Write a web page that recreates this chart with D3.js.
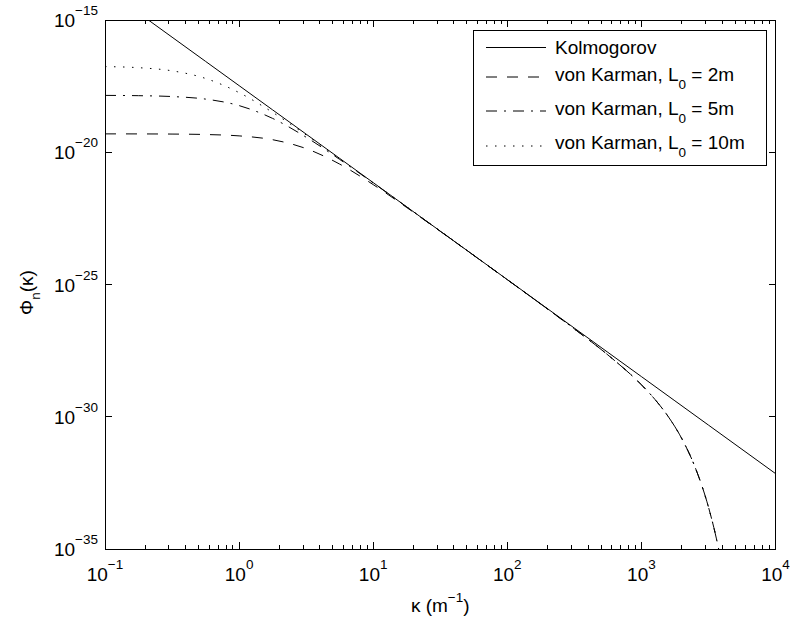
<!DOCTYPE html>
<html>
<head>
<meta charset="utf-8">
<script src="https://cdn.jsdelivr.net/npm/d3@7"></script>
<style>
  html, body { margin: 0; padding: 0; background: #fff; }
  svg { display: block; }
  text { font-family: "Liberation Sans", Arial, Helvetica, sans-serif; fill: #000; }
</style>
</head>
<body>
<div id="chart"></div>
<script>
// ---------------- data ----------------
const kappaKolmogorov = [0.1, 0.1778, 0.3162, 0.5623, 1, 1.778, 3.162, 5.623, 10, 17.78, 31.62, 56.23, 100, 177.8, 316.2, 562.3, 1000, 1778, 3162, 5623, 10000];
const phiKolmogorov = [1.532e-14, 1.856e-15, 2.248e-16, 2.724e-17, 3.3e-18, 3.998e-19, 4.844e-20, 5.868e-21, 7.108e-22, 8.614e-23, 1.0435e-23, 1.264e-24, 1.532e-25, 1.856e-26, 2.248e-27, 2.724e-28, 3.3e-29, 3.998e-30, 4.844e-31, 5.868e-32, 7.108e-33];

const kappaVonKarman = [0.1, 0.1778, 0.3162, 0.5623, 1, 1.778, 3.162, 5.623, 10, 17.78, 31.62, 56.23, 100, 177.8, 316.2, 562.3, 1000, 1259, 1585, 1995, 2512, 3162, 3548, 3981];
const phiVonKarman2m = [4.95e-20, 4.933e-20, 4.871e-20, 4.683e-20, 4.157e-20, 2.981e-20, 1.375e-20, 3.566e-21, 5.98e-22, 8.142e-23, 1.025e-23, 1.257e-24, 1.518e-25, 1.813e-26, 2.093e-27, 2.174e-28, 1.617e-29, 4.58e-30, 1.016e-30, 1.532e-31, 1.251e-32, 3.867e-34, 3.998e-35, 2.562e-36];
const phiVonKarman5m = [1.4115e-18, 1.3768e-18, 1.2757e-18, 1.0219e-18, 5.808e-19, 1.9027e-19, 3.701e-20, 5.366e-21, 6.908e-22, 8.535e-23, 1.0404e-23, 1.2634e-24, 1.5201e-25, 1.814e-26, 2.094e-27, 2.174e-28, 1.617e-29, 4.58e-30, 1.016e-30, 1.532e-31, 1.251e-32, 3.867e-34, 3.998e-35, 2.562e-36];
const phiVonKarman10m = [1.7323e-17, 1.5747e-17, 1.1986e-17, 6.168e-18, 1.7932e-18, 3.2227e-19, 4.5114e-20, 5.736e-21, 7.058e-22, 8.595e-23, 1.0428e-23, 1.264e-24, 1.519e-25, 1.814e-26, 2.094e-27, 2.174e-28, 1.617e-29, 4.58e-30, 1.016e-30, 1.532e-31, 1.251e-32, 3.867e-34, 3.998e-35, 2.562e-36];

const seriesNames = ["Kolmogorov", "von Karman, L", "von Karman, L", "von Karman, L"];
const seriesSubs = ["", "0", "0", "0"];
const seriesRest = ["", " = 2m", " = 5m", " = 10m"];

const xTickValues = [0.1, 1, 10, 100, 1000, 10000];
const xTickExponents = ["\u22121", "0", "1", "2", "3", "4"];
const yTickValues = [1e-35, 1e-30, 1e-25, 1e-20, 1e-15];
const yTickExponents = ["\u221235", "\u221230", "\u221225", "\u221220", "\u221215"];

// ---------------- layout ----------------
const W = 794, H = 619;
const plot = { left: 105, right: 775.5, top: 20, bottom: 549 };
const FS = 19, SUPFS = 13.5;

const svg = d3.select("#chart").append("svg")
  .attr("width", W).attr("height", H)
  .attr("viewBox", `0 0 ${W} ${H}`);

svg.append("rect").attr("width", W).attr("height", H).attr("fill", "#fff");

const x = d3.scaleLog().domain([0.1, 10000]).range([plot.left, plot.right]);
const y = d3.scaleLog().domain([1e-35, 1e-15]).range([plot.bottom, plot.top]);

svg.append("clipPath").attr("id", "clip")
  .append("rect")
  .attr("x", plot.left).attr("y", plot.top)
  .attr("width", plot.right - plot.left).attr("height", plot.bottom - plot.top);

// ---------------- series ----------------
const styles = [
  { dash: null },
  { dash: "11,10" },
  { dash: "11,7,2,7" },
  { dash: "1.5,7.5" }
];

const series = [
  { k: kappaKolmogorov, v: phiKolmogorov },
  { k: kappaVonKarman, v: phiVonKarman2m },
  { k: kappaVonKarman, v: phiVonKarman5m },
  { k: kappaVonKarman, v: phiVonKarman10m }
];

const line = d3.line()
  .x(d => x(d[0]))
  .y(d => y(d[1]))
  .curve(d3.curveMonotoneX);

const gLines = svg.append("g").attr("clip-path", "url(#clip)");
series.forEach((s, i) => {
  const pts = s.k.map((kk, j) => [kk, s.v[j]]);
  gLines.append("path")
    .attr("d", line(pts))
    .attr("fill", "none")
    .attr("stroke", "#000")
    .attr("stroke-width", 1)
    .attr("stroke-dasharray", styles[i].dash);
});

// ---------------- axes (box with inward ticks) ----------------
const gAx = svg.append("g").attr("stroke", "#000").attr("stroke-width", 1).attr("shape-rendering", "crispEdges");
const MAJ = 7, MIN = 4;

const xMinor = x.ticks().filter(t => !xTickValues.some(v => Math.abs(Math.log10(v) - Math.log10(t)) < 1e-6));
xMinor.forEach(t => {
  const px = x(t);
  gAx.append("line").attr("x1", px).attr("x2", px).attr("y1", plot.bottom).attr("y2", plot.bottom - MIN);
  gAx.append("line").attr("x1", px).attr("x2", px).attr("y1", plot.top).attr("y2", plot.top + MIN);
});
xTickValues.forEach(t => {
  const px = x(t);
  gAx.append("line").attr("x1", px).attr("x2", px).attr("y1", plot.bottom).attr("y2", plot.bottom - MAJ);
  gAx.append("line").attr("x1", px).attr("x2", px).attr("y1", plot.top).attr("y2", plot.top + MAJ);
});
yTickValues.forEach(t => {
  const py = y(t);
  gAx.append("line").attr("x1", plot.left).attr("x2", plot.left + MAJ).attr("y1", py).attr("y2", py);
  gAx.append("line").attr("x1", plot.right).attr("x2", plot.right - MAJ).attr("y1", py).attr("y2", py);
});

gAx.append("rect")
  .attr("x", plot.left).attr("y", plot.top)
  .attr("width", plot.right - plot.left).attr("height", plot.bottom - plot.top)
  .attr("fill", "none");

// tick labels
xTickValues.forEach((t, i) => {
  const txt = svg.append("text")
    .attr("x", x(t)).attr("y", plot.bottom + 32)
    .attr("text-anchor", "middle")
    .attr("font-size", FS);
  txt.append("tspan").text("10");
  txt.append("tspan").attr("font-size", SUPFS).attr("dy", -12).text(xTickExponents[i]);
});
yTickValues.forEach((t, i) => {
  const txt = svg.append("text")
    .attr("x", plot.left - 7).attr("y", y(t) + 7)
    .attr("text-anchor", "end")
    .attr("font-size", FS);
  txt.append("tspan").text("10");
  txt.append("tspan").attr("font-size", SUPFS).attr("dy", -12).text(yTickExponents[i]);
});

// axis labels
const xl = svg.append("text")
  .attr("x", (plot.left + plot.right) / 2).attr("y", 612)
  .attr("text-anchor", "middle").attr("font-size", FS);
xl.append("tspan").text("\u03BA (m");
xl.append("tspan").attr("font-size", SUPFS).attr("dy", -10).text("\u22121");
xl.append("tspan").attr("dy", 10).text(")");

const yl = svg.append("text")
  .attr("transform", `translate(33, ${(plot.top + plot.bottom) / 2 + 8}) rotate(-90)`)
  .attr("text-anchor", "middle").attr("font-size", FS);
yl.append("tspan").text("\u03A6");
yl.append("tspan").attr("font-size", SUPFS).attr("dy", 7).text("n");
yl.append("tspan").attr("dy", -7).text("(\u03BA)");

// ---------------- legend ----------------
const leg = { x0: 473, y0: 30, x1: 766, y1: 165 };
svg.append("rect")
  .attr("x", leg.x0).attr("y", leg.y0)
  .attr("width", leg.x1 - leg.x0).attr("height", leg.y1 - leg.y0)
  .attr("fill", "#fff").attr("stroke", "#000").attr("stroke-width", 1)
  .attr("shape-rendering", "crispEdges");

const rowLineY = [47.5, 77, 111, 146];
const rowBaseY = [54, 81, 115, 149];
seriesNames.forEach((name, i) => {
  svg.append("line")
    .attr("x1", 486).attr("x2", 546)
    .attr("y1", rowLineY[i]).attr("y2", rowLineY[i])
    .attr("stroke", "#000").attr("stroke-width", 1)
    .attr("stroke-dasharray", styles[i].dash);
  const t = svg.append("text")
    .attr("x", 555).attr("y", rowBaseY[i])
    .attr("font-size", FS);
  t.append("tspan").text(name);
  if (seriesSubs[i]) {
    t.append("tspan").attr("font-size", SUPFS).attr("dy", 8).text(seriesSubs[i]);
    t.append("tspan").attr("dy", -8).text(seriesRest[i]);
  }
});
</script>
</body>
</html>
